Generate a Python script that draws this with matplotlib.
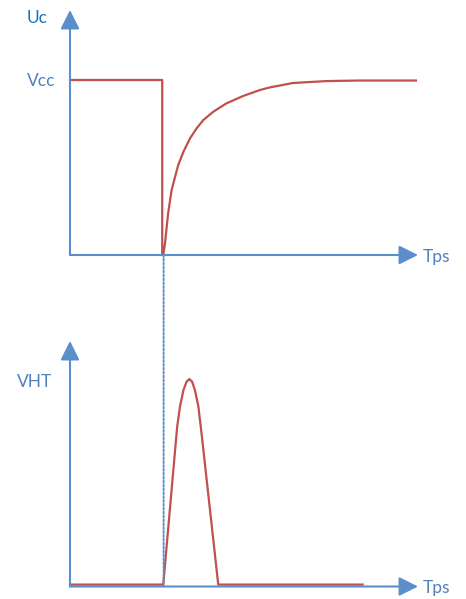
import matplotlib.pyplot as plt
from matplotlib.patches import ConnectionPatch

# top panel: capacitor voltage Uc (Vcc = 1.0)
t_uc = [0, 26.5, 26.5, 26.8, 27.3, 27.6, 28.2, 29.2, 30.2, 31.1, 32.6, 34.5,
        36.4, 38.3, 41.2, 45.0, 49.8, 54.6, 57.5, 64.1, 73.9, 83.3, 99.4]
v_uc = [1.0, 1.0, 0.0, 0.0, 0.067, 0.124, 0.238, 0.371, 0.447, 0.514, 0.590,
        0.667, 0.724, 0.771, 0.819, 0.867, 0.909, 0.943, 0.958, 0.983, 0.994,
        0.997, 0.997]

# bottom panel: high-voltage pulse VHT
t_vht = [0, 26.8, 30.2, 30.8, 31.6, 32.6, 33.5, 34.3, 35.1, 35.9, 36.9, 37.8,
         42.6, 84.1]
v_vht = [0.011, 0.011, 0.778, 0.911, 1.025, 1.120, 1.168, 1.183, 1.168, 1.120,
         1.025, 0.873, 0.011, 0.011]

vcc_level = 1.0
vht_level = 1.183
t_switch = 26.9

axis_blue = '#5B8FCC'
text_blue = '#4F81BD'
red = '#C0504D'

plt.rcParams['font.family'] = ['Lato', 'DejaVu Sans']

fig = plt.figure(figsize=(4.66, 5.99), dpi=100)
ax1 = fig.add_axes([70 / 466, (599 - 255) / 599, 348 / 466, 245 / 599])
ax2 = fig.add_axes([70 / 466, (599 - 586.5) / 599, 348 / 466, 245.5 / 599])

arrow = dict(arrowstyle='-|>,head_length=0.4,head_width=0.2', mutation_scale=29,
             color=axis_blue, lw=1.5, shrinkA=0, shrinkB=0)

for ax in (ax1, ax2):
    ax.set_xlim(0, 100)
    ax.set_ylim(0, 1.4)
    ax.axis('off')
    ax.annotate('', xy=(100, 0), xytext=(0, 0), arrowprops=arrow,
                annotation_clip=False)
    ax.annotate('', xy=(0, 1.4), xytext=(0, 0), arrowprops=arrow,
                annotation_clip=False)
    ax.annotate('Tps', xy=(100, 0), xytext=(5, -7), textcoords='offset pixels',
                ha='left', va='baseline', fontsize=12.5, color=text_blue,
                annotation_clip=False)

ax1.plot(t_uc, v_uc, color=red, lw=1.6, clip_on=False, solid_joinstyle='round')
ax2.plot(t_vht, v_vht, color=red, lw=1.6, clip_on=False, solid_joinstyle='round')

ax1.annotate('Uc', xy=(0, 1.4), xytext=(-32.5, -13.3), textcoords='offset pixels',
             ha='center', va='baseline', fontsize=12.5, color='#1F6FBF',
             annotation_clip=False)
ax1.annotate('Vcc', xy=(0, vcc_level), xytext=(-15, -6), textcoords='offset pixels',
             ha='right', va='baseline', fontsize=12.5, color=text_blue,
             annotation_clip=False)
ax2.annotate('VHT', xy=(0, vht_level), xytext=(-18, -7.7), textcoords='offset pixels',
             ha='right', va='baseline', fontsize=12.5, color=text_blue,
             annotation_clip=False)

# dotted guide linking the switching instant in both panels
con = ConnectionPatch(xyA=(t_switch, 0), coordsA=ax1.transData,
                      xyB=(t_switch, 0), coordsB=ax2.transData,
                      color=axis_blue, lw=1.4, linestyle=(0, (1, 1)))
fig.add_artist(con)

fig.savefig('out.png', dpi=100)
